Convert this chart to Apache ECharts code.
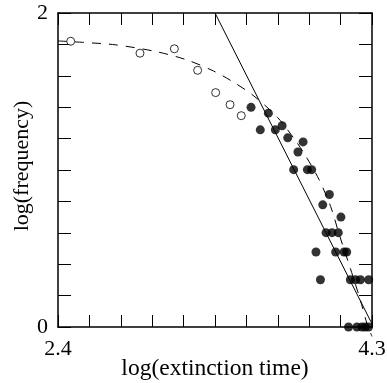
<!DOCTYPE html>
<html><head><meta charset="utf-8">
<script src="https://cdn.jsdelivr.net/npm/echarts@6/dist/echarts.min.js"></script>
<style>html,body{margin:0;padding:0;background:#fff}#c{width:387px;height:383px}</style>
</head><body><div id="c"></div>
<script>
// Open circles (early extinction times)
const openX = [2.477, 2.896, 3.104, 3.245, 3.354, 3.441, 3.509];
const openY = [1.820, 1.744, 1.772, 1.635, 1.493, 1.416, 1.346];
// Filled circles
const filledX = [3.568, 3.673, 3.624, 3.715, 3.756, 3.790, 3.883, 3.852, 3.826, 3.909, 3.935,
  4.042, 4.002, 4.112, 4.022, 4.058, 4.096, 3.961, 4.080, 4.131, 4.147,
  3.988, 4.169, 4.200, 4.230, 4.280, 4.158, 4.209, 4.239, 4.259, 4.279];
const filledY = [1.399, 1.362, 1.256, 1.256, 1.282, 1.205, 1.179, 1.115, 1.002, 1.002, 1.002,
  0.844, 0.778, 0.700, 0.601, 0.601, 0.601, 0.478, 0.478, 0.478, 0.478,
  0.301, 0.301, 0.301, 0.301, 0.301, 0, 0, 0, 0, 0];
// Dashed fit curve
const dashX = [2.40, 2.55, 2.75, 2.99, 3.18, 3.34, 3.45, 3.58, 3.73, 3.84, 3.90, 3.98, 4.05, 4.10, 4.17, 4.23, 4.27, 4.30];
const dashY = [1.822, 1.813, 1.797, 1.755, 1.701, 1.631, 1.567, 1.476, 1.333, 1.183, 1.087, 0.938, 0.767, 0.595, 0.370, 0.170, 0.02, -0.06];
// Solid straight line
const lineX = [3.35, 4.30];
const lineY = [2.0, 0.02];
// Ticks and labels
const xTicks = [2.4, 2.59, 2.78, 2.97, 3.16, 3.35, 3.54, 3.73, 3.92, 4.11, 4.3];
const xLabels = [2.4, 4.3];
const yTicks = [0, 0.2, 0.4, 0.6, 0.8, 1.0, 1.2, 1.4, 1.6, 1.8, 2.0];
const yLabels = [0, 2];

const zip = (a, b) => a.map((v, i) => [v, b[i]]);
const font = 'Liberation Serif';
const axisLine = {show: true, onZero: false, lineStyle: {color: '#000', width: 1.5}};

const chart = echarts.init(document.getElementById('c'));
chart.setOption({
  animation: false,
  backgroundColor: '#fff',
  grid: {left: 58, right: 15, top: 13, bottom: 56, containLabel: false, outerBoundsMode: 'none'},
  xAxis: [{
    type: 'value', min: 2.4, max: 4.3, position: 'bottom',
    axisLine,
    axisTick: {show: true, inside: true, length: 12, customValues: xTicks, lineStyle: {color: '#000', width: 1}},
    axisLabel: {customValues: xLabels, color: '#000', fontFamily: font, fontSize: 22, margin: 11,
      formatter: v => v.toFixed(1)},
    splitLine: {show: false},
    name: 'log(extinction time)', nameLocation: 'middle', nameGap: 30, nameMoveOverlap: false,
    nameTextStyle: {color: '#000', fontFamily: font, fontSize: 23.5}
  }, {
    type: 'value', min: 2.4, max: 4.3, position: 'top',
    axisLine,
    axisTick: {show: true, inside: true, length: 12, customValues: xTicks, lineStyle: {color: '#000', width: 1}},
    axisLabel: {show: false},
    splitLine: {show: false}
  }],
  yAxis: [{
    type: 'value', min: 0, max: 2, position: 'left',
    axisLine,
    axisTick: {show: true, inside: true, length: 13, customValues: yTicks, lineStyle: {color: '#000', width: 1}},
    axisLabel: {customValues: yLabels, color: '#000', fontFamily: font, fontSize: 22, margin: 10,
      formatter: v => String(Math.round(v))},
    splitLine: {show: false},
    name: 'log(frequency)', nameLocation: 'middle', nameGap: 25, nameMoveOverlap: false,
    nameTextStyle: {color: '#000', fontFamily: font, fontSize: 22, padding: [0, 0, 0, 8]}
  }, {
    type: 'value', min: 0, max: 2, position: 'right',
    axisLine,
    axisTick: {show: true, inside: true, length: 13, customValues: yTicks, lineStyle: {color: '#000', width: 1}},
    axisLabel: {show: false},
    splitLine: {show: false}
  }],
  series: [{
    type: 'line', data: zip(dashX, dashY), smooth: 0.3, symbol: 'none', clip: false,
    lineStyle: {color: '#000', width: 1, type: [9, 8]}, z: 3
  }, {
    type: 'line', data: zip(lineX, lineY), symbol: 'none',
    lineStyle: {color: '#000', width: 1}, z: 3
  }, {
    type: 'scatter', data: zip(openX, openY), symbol: 'circle', symbolSize: 8,
    itemStyle: {color: '#fff', borderColor: '#000', borderWidth: 1}, z: 4
  }, {
    type: 'scatter', data: zip(filledX, filledY), symbol: 'circle', symbolSize: 9,
    itemStyle: {color: '#000'}, z: 4
  }]
});
</script>
</body></html>
